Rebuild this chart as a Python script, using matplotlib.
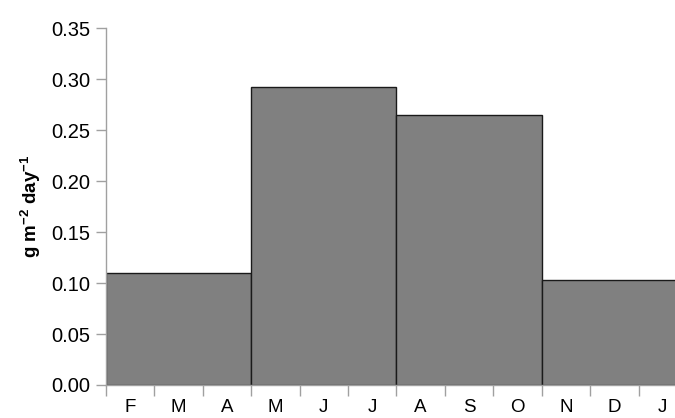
import matplotlib.pyplot as plt

months = ["F", "M", "A", "M", "J", "J", "A", "S", "O", "N", "D", "J"]
season_start = [0, 3, 6, 9]
season_len = [3, 3, 3, 3]
flux = [0.110, 0.292, 0.265, 0.103]

plt.rcParams['font.family'] = ['Liberation Sans', 'DejaVu Sans']
plt.rcParams['mathtext.fontset'] = 'custom'
plt.rcParams['mathtext.rm'] = 'Liberation Sans'
plt.rcParams['mathtext.bf'] = 'Liberation Sans:bold'

fig = plt.figure(figsize=(6.75, 4.18), dpi=100)
ax = fig.add_axes([106 / 675, 33 / 418, 581 / 675, 356.7 / 418])

ax.bar(season_start, flux, width=season_len, align='edge',
       color='#808080', edgecolor='#1a1a1a', linewidth=1.0)

ax.set_xlim(0, 12)
ax.set_ylim(0, 0.35)
ax.set_yticks([i * 0.05 for i in range(8)])
ax.set_yticklabels(["%.2f" % (i * 0.05) for i in range(8)], fontsize=14.5)

ax.set_xticks(range(13))
ax.set_xticklabels([])
ax.set_xticks([i + 0.5 for i in range(12)], minor=True)
ax.set_xticklabels(months, minor=True, fontsize=13.5)
ax.tick_params(axis='x', which='major', length=8, color='#a0a0a0', width=1)
ax.tick_params(axis='x', which='minor', length=0, pad=10)
ax.tick_params(axis='y', length=7, color='#a0a0a0', width=1, pad=4)

for s in ['top', 'right']:
    ax.spines[s].set_visible(False)
for s in ['left', 'bottom']:
    ax.spines[s].set_color('#a0a0a0')
    ax.spines[s].set_linewidth(1)

ax.set_ylabel(r"g m$^{\mathbf{-2}}$ day$^{\mathbf{-1}}$", fontsize=13.5,
              fontweight='bold', labelpad=6)

fig.savefig("out.png", dpi=100)
